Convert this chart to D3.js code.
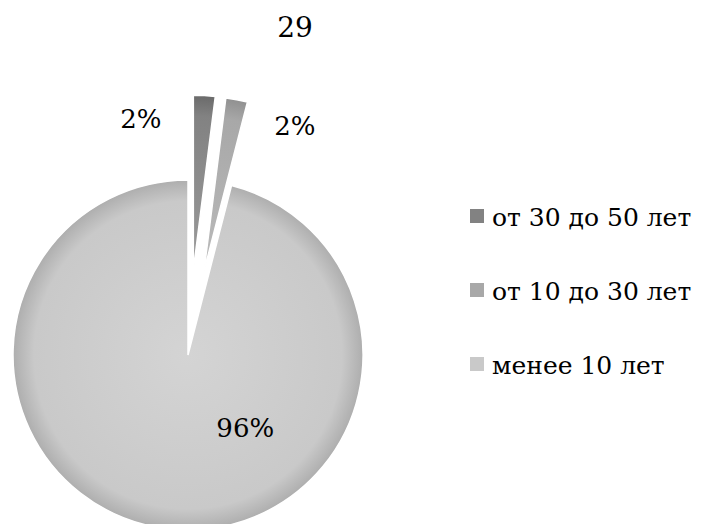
<!DOCTYPE html>
<html>
<head>
<meta charset="utf-8">
<script src="https://cdn.jsdelivr.net/npm/d3@7"></script>
<style>
  body { margin: 0; background: #ffffff; }
</style>
</head>
<body>
<div id="chart"></div>
<script>
// data
const title = '29';
const categories = ['от 30 до 50 лет', 'от 10 до 30 лет', 'менее 10 лет'];
const values = [2, 2, 96];
const valueLabels = ['2%', '2%', '96%'];

const fmt = {
    width: 704,
    height: 524,
    font: "'DejaVu Serif', serif",
    cx: 188,
    cy: 355,
    radius: 175,
    explode: [85, 85, 0],
    // where Excel put the labels: angle (deg, clockwise from top) and distance from centre
    labelPolar: [[-11.3, 241], [25, 253], [142, 93]],
    colors: [['#9a9a9a', '#828282', '#6a6a6a'], ['#bababa', '#a8a8a8', '#909090'], ['#d4d4d4', '#c9c9c9', '#aeaeae']],
    legend: { x: 470, y: 218, step: 74, box: 14 }
};

let svg = d3.select('#chart').append('svg')
    .attr('width', fmt.width)
    .attr('height', fmt.height)
    .attr('font-family', fmt.font);

let defs = svg.append('defs');
fmt.colors.forEach((c, i) => {
    let grad = defs.append('radialGradient')
        .attr('id', 'grad' + i)
        .attr('gradientUnits', 'userSpaceOnUse')
        .attr('cx', 0).attr('cy', 0).attr('r', fmt.radius);
    grad.append('stop').attr('offset', '0%').attr('stop-color', c[0]);
    grad.append('stop').attr('offset', '88%').attr('stop-color', c[1]);
    grad.append('stop').attr('offset', '100%').attr('stop-color', c[2]);
});

let pie = d3.pie().sort(null).value((d) => d);
let arcs = pie(values);

let arc = d3.arc().innerRadius(0).outerRadius(fmt.radius);

let g = svg.append('g')
    .attr('transform', 'translate(' + fmt.cx + ',' + fmt.cy + ')');

g.selectAll('.slice')
    .data(arcs)
    .enter().append('path')
    .attr('class', 'slice')
    .attr('transform', (d, i) => {
        let a = (d.startAngle + d.endAngle) / 2;
        let off = fmt.explode[i];
        return 'translate(' + (off * Math.sin(a)) + ',' + (-off * Math.cos(a)) + ')';
    })
    .attr('d', arc)
    .attr('fill', (_, i) => 'url(#grad' + i + ')')
    .attr('stroke', '#ffffff')
    .attr('stroke-width', 1.5);

g.selectAll('.lbl')
    .data(valueLabels)
    .enter().append('text')
    .attr('class', 'lbl')
    .attr('x', (_, i) => fmt.labelPolar[i][1] * Math.sin(fmt.labelPolar[i][0] * Math.PI / 180))
    .attr('y', (_, i) => -fmt.labelPolar[i][1] * Math.cos(fmt.labelPolar[i][0] * Math.PI / 180))
    .attr('dy', '0.35em')
    .attr('text-anchor', 'middle')
    .attr('font-size', 26)
    .attr('fill', '#000000')
    .text((d) => d);

svg.append('text')
    .attr('x', 295)
    .attr('y', 37)
    .attr('text-anchor', 'middle')
    .attr('font-size', 28)
    .attr('fill', '#000000')
    .text(title);

let rows = svg.selectAll('.row')
    .data(categories)
    .enter().append('g')
    .attr('class', 'row')
    .attr('transform', (_, i) => 'translate(' + fmt.legend.x + ',' + (fmt.legend.y + i * fmt.legend.step) + ')');

rows.append('rect')
    .attr('y', -fmt.legend.box / 2 - 2)
    .attr('width', fmt.legend.box)
    .attr('height', fmt.legend.box)
    .attr('fill', (_, i) => fmt.colors[i][1]);

rows.append('text')
    .attr('x', fmt.legend.box + 8)
    .attr('dy', '0.32em')
    .attr('font-size', 25)
    .attr('fill', '#000000')
    .text((d) => d);
</script>
</body>
</html>
